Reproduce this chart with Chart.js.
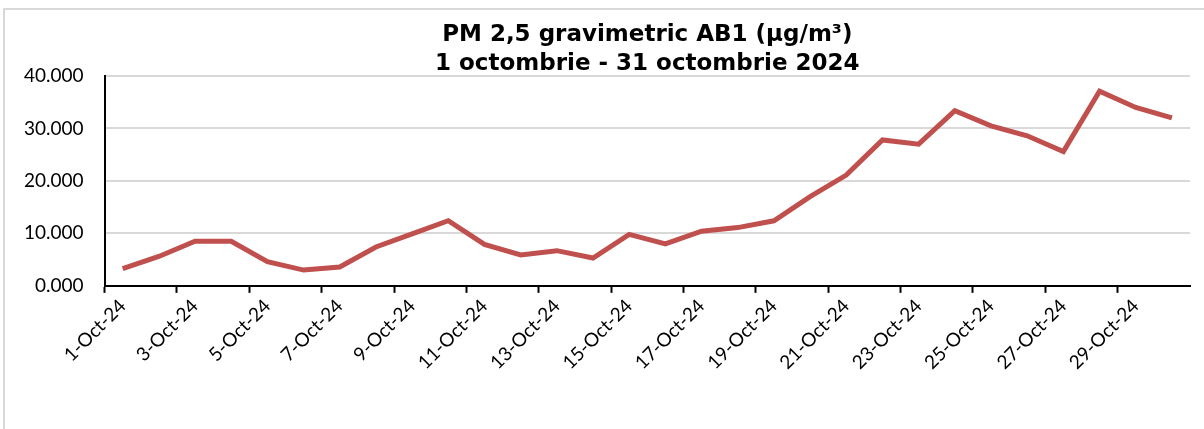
<!DOCTYPE html>
<html>
<head>
<meta charset="utf-8">
<script src="https://cdn.jsdelivr.net/npm/chart.js@4/dist/chart.umd.min.js"></script>
<style>
    html, body { margin: 0; padding: 0; background: #fff; overflow: hidden; }
    #wrap { position: relative; width: 1204px; height: 429px; }
    #frame {
        position: absolute; left: 3px; top: 8px; width: 1400px; height: 600px;
        border: 2px solid #d9d9d9; pointer-events: none;
    }
</style>
</head>
<body>
<div id="wrap">
    <canvas id="pmChart" width="1204" height="429"></canvas>
    <div id="frame"></div>
</div>
<script>
const titleLines = ['PM 2,5 gravimetric AB1 (µg/m³)', '1 octombrie - 31 octombrie 2024'];

const days = [
    '1-Oct-24', '2-Oct-24', '3-Oct-24', '4-Oct-24', '5-Oct-24', '6-Oct-24',
    '7-Oct-24', '8-Oct-24', '9-Oct-24', '10-Oct-24', '11-Oct-24', '12-Oct-24',
    '13-Oct-24', '14-Oct-24', '15-Oct-24', '16-Oct-24', '17-Oct-24', '18-Oct-24',
    '19-Oct-24', '20-Oct-24', '21-Oct-24', '22-Oct-24', '23-Oct-24', '24-Oct-24',
    '25-Oct-24', '26-Oct-24', '27-Oct-24', '28-Oct-24', '29-Oct-24', '30-Oct-24'
];

const pm25 = [
    3.3, 5.6, 8.5, 8.5, 4.6, 3.0, 3.6, 7.4, 9.9, 12.4,
    7.9, 5.9, 6.7, 5.3, 9.8, 8.0, 10.4, 11.1, 12.4, 17.0,
    21.1, 27.8, 27.0, 33.4, 30.5, 28.6, 25.6, 37.1, 34.0, 32.0
];

const yTicks = [0, 10, 20, 30, 40];

const ctx = document.getElementById('pmChart').getContext('2d');

new Chart(ctx, {
    type: 'line',
    data: {
        labels: days,
        datasets: [{
            label: 'PM 2,5',
            data: pm25,
            borderColor: '#c0504d',
            backgroundColor: '#c0504d',
            borderWidth: 5,
            pointRadius: 0,
            tension: 0
        }]
    },
    options: {
        responsive: false,
        animation: false,
        layout: {
            padding: { left: 3, right: 14, top: 0, bottom: 53 }
        },
        plugins: {
            legend: { display: false },
            tooltip: { enabled: false },
            title: {
                display: true,
                fullSize: false,
                text: titleLines,
                color: '#000',
                font: { family: 'DejaVu Sans', size: 23, weight: 'bold', lineHeight: 1.26 },
                padding: { top: 21, bottom: -3 }
            }
        },
        scales: {
            x: {
                type: 'category',
                offset: true,
                border: { display: true, color: '#000', width: 2 },
                grid: {
                    display: true,
                    offset: true,
                    drawOnChartArea: false,
                    drawTicks: true,
                    tickLength: 7,
                    tickWidth: 2,
                    tickColor: (c) => (c.index % 2 === 0 ? '#000' : 'rgba(0,0,0,0)')
                },
                ticks: {
                    autoSkip: false,
                    maxRotation: 45,
                    minRotation: 45,
                    padding: 2,
                    color: '#000',
                    font: { family: 'Lato', size: 19 },
                    callback: function (value, index) {
                        return index % 2 === 0 ? this.getLabelForValue(value) : '';
                    }
                }
            },
            y: {
                min: yTicks[0],
                max: yTicks[yTicks.length - 1],
                border: { display: true, color: '#000', width: 2 },
                grid: {
                    color: '#d9d9d9',
                    lineWidth: 2,
                    drawTicks: false
                },
                afterBuildTicks: (scale) => {
                    scale.ticks = yTicks.map(v => ({ value: v }));
                },
                ticks: {
                    padding: 21,
                    color: '#000',
                    font: { family: 'Lato', size: 19 },
                    callback: (v) => v.toFixed(3)
                }
            }
        }
    }
});
</script>
</body>
</html>
